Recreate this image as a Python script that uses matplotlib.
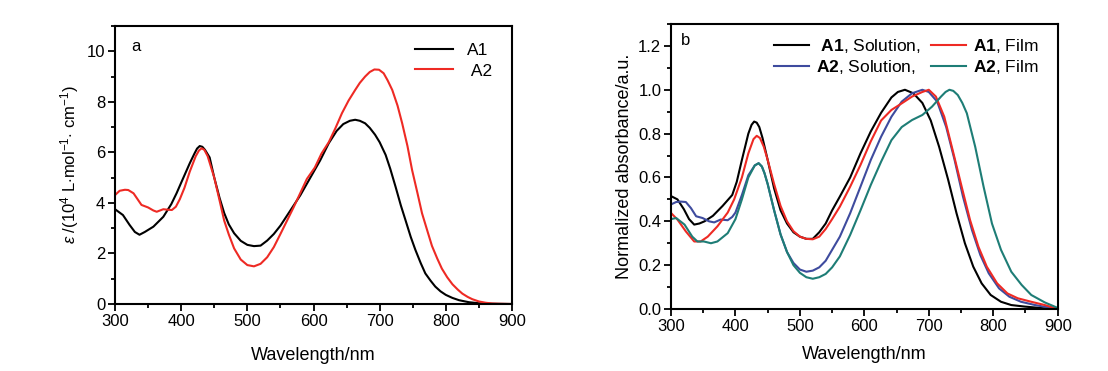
import matplotlib
matplotlib.use("Agg")
import matplotlib.pyplot as plt
from matplotlib.ticker import MultipleLocator

plt.rcParams['font.family'] = ['Liberation Sans', 'DejaVu Sans']
plt.rcParams['mathtext.fontset'] = 'custom'
plt.rcParams['mathtext.rm'] = 'Liberation Sans'
plt.rcParams['mathtext.it'] = 'Liberation Sans:italic'
plt.rcParams['mathtext.bf'] = 'Liberation Sans:bold'

# ---- panel a: molar absorptivity (10^4 L mol-1 cm-1) ----
wl_a1 = [300, 312, 322, 330, 337, 345, 358, 373, 385, 393, 400, 413, 420, 424, 428, 432, 436, 443,
         450, 458, 465, 472, 480, 490, 500, 510, 520, 530, 540, 550, 560, 570, 580, 590, 600,
         610, 623, 635, 645, 655, 663, 670, 678, 685, 693, 700, 709, 716, 724, 732, 739,
         747, 754, 762, 769, 777, 784, 792, 800, 810, 820, 835, 850, 870, 900]
eps_a1 = [3.75, 3.52, 3.13, 2.85, 2.74, 2.85, 3.06, 3.45, 3.95, 4.38, 4.8, 5.57, 5.95, 6.15, 6.25, 6.22, 6.1, 5.8,
          5.0, 4.2, 3.6, 3.15, 2.8, 2.5, 2.34, 2.29, 2.31, 2.51, 2.77, 3.1, 3.5, 3.9, 4.3, 4.76, 5.22,
          5.68, 6.36, 6.85, 7.12, 7.25, 7.29, 7.25, 7.15, 6.97, 6.7, 6.4, 5.9, 5.35, 4.64, 3.9, 3.32,
          2.65, 2.14, 1.62, 1.21, 0.92, 0.69, 0.5, 0.36, 0.24, 0.15, 0.07, 0.03, 0.01, 0.0]

wl_a2 = [300, 307, 315, 320, 328, 340, 350, 358, 363, 368, 373, 380, 386, 392, 398, 405, 413,
         422, 427, 431, 435, 440, 450, 458, 465, 472, 480, 490, 500, 510, 520, 530, 540, 550, 560, 570,
         580, 590, 602, 612, 623, 633, 643, 653, 663, 670, 678, 685, 692, 699, 706, 712, 719,
         727, 734, 742, 749, 757, 764, 772, 779, 787, 794, 802, 810, 818, 825, 833, 840, 850,
         860, 870, 880, 900]
eps_a2 = [4.31, 4.48, 4.52, 4.51, 4.38, 3.92, 3.82, 3.7, 3.65, 3.7, 3.75, 3.73, 3.72, 3.85, 4.15, 4.6, 5.24,
          5.85, 6.08, 6.16, 6.1, 5.85, 5.0, 4.1, 3.3, 2.75, 2.2, 1.76, 1.54, 1.49, 1.59, 1.85, 2.25, 2.77, 3.3, 3.83,
          4.39, 4.95, 5.4, 5.95, 6.4, 6.95, 7.55, 8.05, 8.47, 8.75, 9.0, 9.18, 9.28, 9.27, 9.13, 8.85, 8.47,
          7.85, 7.15, 6.25, 5.3, 4.4, 3.59, 2.9, 2.3, 1.8, 1.4, 1.06, 0.78, 0.57, 0.41, 0.28, 0.19, 0.1,
          0.05, 0.02, 0.01, 0.0]

# ---- panel b: normalized absorbance ----
wl_s1 = [300, 310, 320, 328, 336, 344, 352, 365, 380, 395, 402, 410, 420, 425, 429, 433, 437, 442, 450,
         460, 470, 480, 490, 500, 510, 520, 530, 540, 550, 562, 578, 594, 610, 626, 642, 652, 663,
         676, 690, 703, 716, 730, 743, 756, 769, 782, 796, 812, 828, 849, 880, 900]
abs_s1 = [0.515, 0.50, 0.455, 0.41, 0.385, 0.39, 0.40, 0.425, 0.47, 0.52, 0.58, 0.68, 0.80, 0.84, 0.855, 0.85, 0.83, 0.78, 0.68,
          0.55, 0.45, 0.39, 0.35, 0.33, 0.32, 0.32, 0.35, 0.39, 0.45, 0.513, 0.60, 0.71, 0.81, 0.895, 0.965, 0.99, 1.0,
          0.984, 0.94, 0.86, 0.74, 0.59, 0.437, 0.30, 0.193, 0.117, 0.064, 0.033, 0.018, 0.011, 0.003, 0.0]

wl_f1 = [300, 310, 323, 336, 346, 357, 372, 388, 398, 410, 420, 428, 433, 438, 444, 450, 460, 470, 480,
         490, 500, 510, 520, 530, 540, 550, 562, 578, 594, 610, 626, 642, 658, 674, 690, 700,
         711, 724, 737, 751, 764, 777, 790, 806, 822, 838, 859, 880, 900]
abs_f1 = [0.438, 0.408, 0.354, 0.308, 0.308, 0.33, 0.377, 0.44, 0.5, 0.6, 0.71, 0.775, 0.79, 0.78, 0.74, 0.68, 0.57, 0.47, 0.40,
          0.355, 0.33, 0.32, 0.318, 0.33, 0.365, 0.41, 0.467, 0.558, 0.657, 0.765, 0.86, 0.908, 0.938, 0.969, 0.99, 1.0,
          0.969, 0.877, 0.725, 0.558, 0.406, 0.284, 0.193, 0.117, 0.071, 0.049, 0.033, 0.018, 0.0]

wl_s2 = [300, 308, 315, 323, 331, 339, 349, 359, 367, 377, 388, 395, 400, 410, 420, 430, 436, 441, 445,
         450, 460, 470, 480, 490, 500, 510, 520, 530, 540, 550, 562, 578, 594, 610, 626, 642,
         658, 674, 690, 700, 713, 727, 740, 753, 767, 780, 793, 809, 825, 843, 865, 880, 900]
abs_s2 = [0.477, 0.488, 0.49, 0.488, 0.46, 0.423, 0.415, 0.40, 0.395, 0.408, 0.405, 0.42, 0.44, 0.52, 0.61, 0.655, 0.665, 0.65, 0.62,
          0.57, 0.45, 0.34, 0.26, 0.21, 0.18, 0.17, 0.175, 0.19, 0.22, 0.27, 0.33, 0.437, 0.558, 0.68, 0.786, 0.877,
          0.946, 0.984, 1.0, 0.99, 0.946, 0.83, 0.68, 0.513, 0.36, 0.246, 0.163, 0.094, 0.056, 0.033, 0.018, 0.01, 0.0]

wl_f2 = [300, 308, 321, 333, 341, 351, 362, 372, 388, 400, 410, 420, 430, 436, 441, 445, 450, 460, 470,
         480, 490, 500, 510, 520, 530, 540, 550, 562, 578, 594, 610, 626, 642, 658, 674, 690,
         705, 719, 726, 732, 738, 745, 752, 759, 772, 785, 798, 812, 828, 844, 859, 880, 900]
abs_f2 = [0.41, 0.415, 0.385, 0.33, 0.308, 0.308, 0.30, 0.308, 0.346, 0.41, 0.5, 0.6, 0.655, 0.665, 0.65, 0.62, 0.57, 0.45, 0.34,
          0.26, 0.20, 0.165, 0.145, 0.138, 0.145, 0.16, 0.19, 0.24, 0.338, 0.45, 0.566, 0.672, 0.77, 0.83, 0.862, 0.885,
          0.923, 0.969, 0.99, 1.0, 0.995, 0.976, 0.94, 0.893, 0.74, 0.558, 0.39, 0.27, 0.17, 0.11, 0.064, 0.03, 0.005]

red = '#ee2a24'
blue = '#3e4b9e'
teal = '#1e7d76'

fig = plt.figure(figsize=(11.08, 3.71), dpi=100)
ax1 = fig.add_axes([0.1038, 0.1806, 0.3583, 0.7493])
ax2 = fig.add_axes([0.6056, 0.1671, 0.3490, 0.7682])


def style(ax):
    for s in ax.spines.values():
        s.set_linewidth(1.5)
    ax.tick_params(which='both', direction='out', width=1.3, labelsize=12,
                   top=False, right=False)
    ax.tick_params(which='major', length=5, pad=2)
    ax.tick_params(which='minor', length=3)
    ax.xaxis.set_major_locator(MultipleLocator(100))
    ax.xaxis.set_minor_locator(MultipleLocator(50))


ax1.plot(wl_a1, eps_a1, color='black', lw=1.5, label='A1')
ax1.plot(wl_a2, eps_a2, color=red, lw=1.5, label=' A2')
ax1.set_xlim(300, 900)
ax1.set_ylim(0, 11)
ax1.yaxis.set_major_locator(MultipleLocator(2))
ax1.yaxis.set_minor_locator(MultipleLocator(1))
style(ax1)
ax1.set_xlabel('Wavelength/nm', fontsize=13, labelpad=13)
ax1.set_ylabel(r'$\mathit{\varepsilon}$ /(10$^4$ L$\cdot$mol$^{-1}$$\cdot$ cm$^{-1}$)', fontsize=12, labelpad=4)
ax1.text(0.04, 0.955, 'a', transform=ax1.transAxes, fontsize=12, va='top')
ax1.legend(loc='upper right', bbox_to_anchor=(0.99, 0.995), frameon=False, fontsize=12.5,
           handlelength=2.2, handletextpad=0.8, labelspacing=0.3)

ax2.plot(wl_s1, abs_s1, color='black', lw=1.5, label=r' $\mathbf{A1}$, Solution,')
ax2.plot(wl_s2, abs_s2, color=blue, lw=1.5, label=r'$\mathbf{A2}$, Solution,')
ax2.plot(wl_f1, abs_f1, color=red, lw=1.5, label=r'$\mathbf{A1}$, Film')
ax2.plot(wl_f2, abs_f2, color=teal, lw=1.5, label=r'$\mathbf{A2}$, Film')
ax2.set_xlim(300, 900)
ax2.set_ylim(0, 1.3)
ax2.yaxis.set_major_locator(MultipleLocator(0.2))
ax2.yaxis.set_minor_locator(MultipleLocator(0.1))
ax2.yaxis.set_major_formatter(matplotlib.ticker.FormatStrFormatter('%.1f'))
style(ax2)
ax2.set_xlabel('Wavelength/nm', fontsize=13, labelpad=9)
ax2.set_ylabel('Normalized absorbance/a.u.', fontsize=13, labelpad=4)
ax2.text(0.025, 0.97, 'b', transform=ax2.transAxes, fontsize=12, va='top')
ax2.legend(loc='upper right', bbox_to_anchor=(0.99, 1.01), ncol=2, frameon=False, fontsize=12.5,
           handlelength=2.0, handletextpad=0.4, labelspacing=0.2, columnspacing=0.6)

fig.savefig('out.png', dpi=100)
